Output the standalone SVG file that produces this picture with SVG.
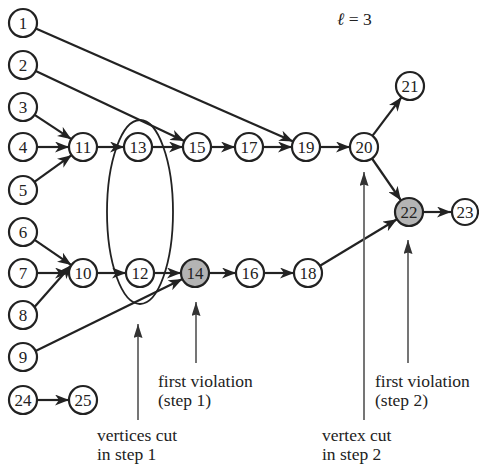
<svg xmlns="http://www.w3.org/2000/svg" width="479" height="468" viewBox="0 0 479 468">
<style>
.n circle{fill:#fff;stroke:#222;stroke-width:2.2}
.n.g circle{fill:#b4b4b4}
.n text{font-family:"Liberation Serif",serif;font-size:17px;fill:#222;text-anchor:middle;dominant-baseline:central}
.e line{stroke:#222;stroke-width:2.2;marker-end:url(#ah)}
.p line{stroke:#666;stroke-width:1.8;marker-end:url(#ph)}
.lbl{font-family:"Liberation Serif",serif;font-size:17.5px;fill:#222}
</style>
<defs>
<marker id="ah" markerUnits="userSpaceOnUse" markerWidth="15" markerHeight="11" refX="14" refY="5.5" orient="auto"><path d="M0,0 L14,5.5 L0,11 L4,5.5 z" fill="#222"/></marker>
<marker id="ph" markerUnits="userSpaceOnUse" markerWidth="15" markerHeight="10" refX="14" refY="4.5" orient="auto"><path d="M0,0 L14,4.5 L0,9 L1.5,4.5 z" fill="#333"/></marker>
</defs>
<rect width="479" height="468" fill="#fff"/>
<text class="lbl" x="337" y="25" font-size="20" font-style="italic">ℓ<tspan font-style="normal"> = 3</tspan></text>
<ellipse cx="140" cy="212" rx="33" ry="92" fill="none" stroke="#222" stroke-width="1.8"/>
<g class="e" id="edges">
<line x1="35.8" y1="28.6" x2="293.2" y2="141.4"/>
<line x1="35.7" y1="71" x2="184.3" y2="141"/>
<line x1="34.6" y1="114.8" x2="71.4" y2="139.2"/>
<line x1="37" y1="147" x2="69" y2="147"/>
<line x1="34.4" y1="181.8" x2="71.6" y2="155.2"/>
<line x1="97" y1="147" x2="124" y2="147"/>
<line x1="152" y1="147" x2="183" y2="147"/>
<line x1="211" y1="147" x2="235" y2="147"/>
<line x1="263" y1="147" x2="292" y2="147"/>
<line x1="320" y1="147" x2="350" y2="147"/>
<line x1="372.4" y1="135.8" x2="401.6" y2="97.2"/>
<line x1="372" y1="158.5" x2="401" y2="200.5"/>
<line x1="423" y1="212" x2="451" y2="212"/>
<line x1="34.6" y1="239.9" x2="71.4" y2="265.1"/>
<line x1="37" y1="273" x2="69" y2="273"/>
<line x1="34.5" y1="307" x2="71.5" y2="265"/>
<line x1="97" y1="273" x2="126" y2="273"/>
<line x1="154" y1="273" x2="181" y2="273"/>
<line x1="209" y1="273" x2="236" y2="273"/>
<line x1="264" y1="273" x2="294" y2="273"/>
<line x1="320" y1="265.8" x2="397" y2="219.2"/>
<line x1="35.6" y1="350.9" x2="182.4" y2="279.1"/>
<line x1="37" y1="400" x2="69" y2="400"/>
</g>
<g class="p" id="pointers">
<line x1="138" y1="420" x2="138" y2="324"/>
<line x1="196" y1="363" x2="196" y2="302"/>
<line x1="364" y1="420" x2="364" y2="172"/>
<line x1="408" y1="363" x2="408" y2="240"/>
</g>
<g class="n" id="n1"><circle cx="23" cy="23" r="14"/><text x="23" y="23">1</text></g>
<g class="n" id="n2"><circle cx="23" cy="65" r="14"/><text x="23" y="65">2</text></g>
<g class="n" id="n3"><circle cx="23" cy="107" r="14"/><text x="23" y="107">3</text></g>
<g class="n" id="n4"><circle cx="23" cy="147" r="14"/><text x="23" y="147">4</text></g>
<g class="n" id="n5"><circle cx="23" cy="190" r="14"/><text x="23" y="190">5</text></g>
<g class="n" id="n6"><circle cx="23" cy="232" r="14"/><text x="23" y="232">6</text></g>
<g class="n" id="n7"><circle cx="23" cy="273" r="14"/><text x="23" y="273">7</text></g>
<g class="n" id="n8"><circle cx="23" cy="315" r="14"/><text x="23" y="315">8</text></g>
<g class="n" id="n9"><circle cx="23" cy="357" r="14"/><text x="23" y="357">9</text></g>
<g class="n" id="n10"><circle cx="83" cy="273" r="14"/><text x="83" y="273">10</text></g>
<g class="n" id="n11"><circle cx="83" cy="147" r="14"/><text x="83" y="147">11</text></g>
<g class="n" id="n12"><circle cx="140" cy="273" r="14"/><text x="140" y="273">12</text></g>
<g class="n" id="n13"><circle cx="138" cy="147" r="14"/><text x="138" y="147">13</text></g>
<g class="n g" id="n14"><circle cx="195" cy="273" r="14"/><text x="195" y="273">14</text></g>
<g class="n" id="n15"><circle cx="197" cy="147" r="14"/><text x="197" y="147">15</text></g>
<g class="n" id="n16"><circle cx="250" cy="273" r="14"/><text x="250" y="273">16</text></g>
<g class="n" id="n17"><circle cx="249" cy="147" r="14"/><text x="249" y="147">17</text></g>
<g class="n" id="n18"><circle cx="308" cy="273" r="14"/><text x="308" y="273">18</text></g>
<g class="n" id="n19"><circle cx="306" cy="147" r="14"/><text x="306" y="147">19</text></g>
<g class="n" id="n20"><circle cx="364" cy="147" r="14"/><text x="364" y="147">20</text></g>
<g class="n" id="n21"><circle cx="410" cy="86" r="14"/><text x="410" y="86">21</text></g>
<g class="n g" id="n22"><circle cx="409" cy="212" r="14"/><text x="409" y="212">22</text></g>
<g class="n" id="n23"><circle cx="465" cy="212" r="13"/><text x="465" y="212">23</text></g>
<g class="n" id="n24"><circle cx="23" cy="400" r="14"/><text x="23" y="400">24</text></g>
<g class="n" id="n25"><circle cx="83" cy="400" r="14"/><text x="83" y="400">25</text></g>
<g id="labels">
<text class="lbl" x="158" y="387">first violation</text>
<text class="lbl" x="158" y="406">(step 1)</text>
<text class="lbl" x="97" y="441">vertices cut</text>
<text class="lbl" x="97" y="460">in step 1</text>
<text class="lbl" x="322" y="441">vertex cut</text>
<text class="lbl" x="322" y="460">in step 2</text>
<text class="lbl" x="375" y="387">first violation</text>
<text class="lbl" x="375" y="406">(step 2)</text>
</g>
</svg>
